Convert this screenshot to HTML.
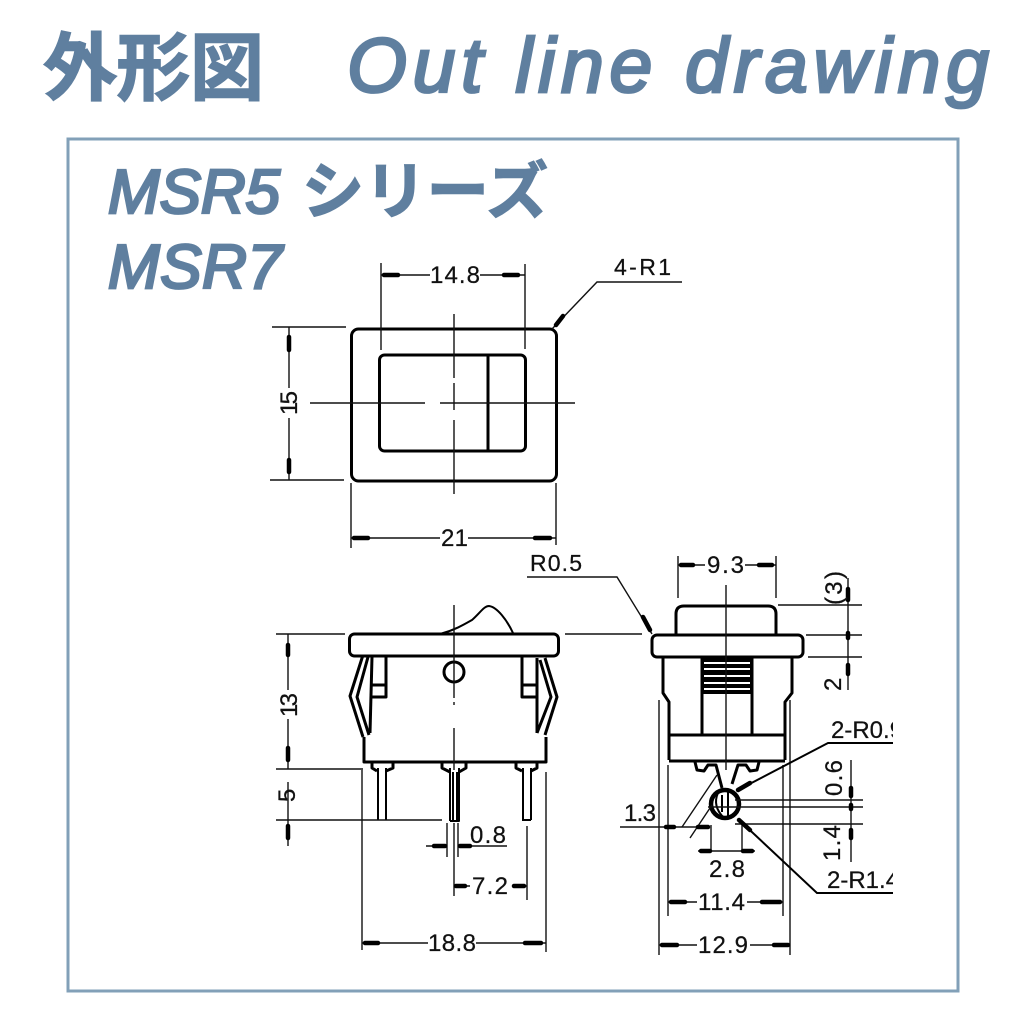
<!DOCTYPE html>
<html><head><meta charset="utf-8"><style>
html,body{margin:0;padding:0;background:#fff}
svg{display:block}
.h{fill:#5f7f9f;font-family:"Liberation Sans","Noto Sans CJK JP",sans-serif;font-style:italic;font-weight:400;stroke:#5f7f9f;stroke-width:2.8}
.j{fill:#5f7f9f;font-family:"Noto Sans CJK JP",sans-serif;font-weight:700;stroke:#5f7f9f;stroke-width:1.5}
.t{fill:#111;font-family:"Liberation Sans",sans-serif;font-size:24px;stroke:#111;stroke-width:.25}
.m{fill:none;stroke:#000;stroke-width:3;stroke-linejoin:round}
.s{fill:none;stroke:#000;stroke-width:2;stroke-linejoin:round}
.d{fill:none;stroke:#111;stroke-width:1.4}
.a{fill:none;stroke:#000;stroke-width:4.5;stroke-linecap:round}
</style></head><body>
<svg width="1024" height="1024" viewBox="0 0 1024 1024" xmlns="http://www.w3.org/2000/svg">
<rect width="1024" height="1024" fill="#fff"/>
<text class="j" x="43" y="94" font-size="74" textLength="221" lengthAdjust="spacing">外形図</text>
<text class="h" x="347" y="92" font-size="77" textLength="642" lengthAdjust="spacing">Out line drawing</text>
<rect x="68" y="139" width="890" height="852" fill="none" stroke="#82a0b8" stroke-width="3"/>
<text class="h" x="108" y="213" font-size="62" textLength="172" lengthAdjust="spacing">MSR5</text>
<text class="j" x="302" y="213" font-size="62" textLength="246" lengthAdjust="spacing">シリーズ</text>
<text class="h" x="108" y="288" font-size="62" textLength="174" lengthAdjust="spacing">MSR7</text>

<!-- TOP VIEW -->
<rect x="351.500" y="329" width="205" height="152" rx="7" class="m"/>
<rect x="379.500" y="355" width="146" height="96" rx="5" class="m"/>
<path d="M488 355V451" class="m"/>
<path d="M454 314V378M454 383V410M454 420V494" class="d"/>
<path d="M310 403H425M440 403H575" class="d"/>
<path d="M381 263V350M525 264V349" class="d"/>
<path d="M381 275H430M480 275H525" class="d"/>
<path d="M384 275H398M504 275H518" class="a"/>
<text class="t" x="430" y="283" textLength="50" lengthAdjust="spacing">14.8</text>
<path d="M272 327H346M270 480H344" class="d"/>
<path d="M289 327V388M289 418V480" class="d"/>
<path d="M289 337V350M289 460V472" class="a" stroke-width="4"/>
<text class="t" transform="translate(297,415) rotate(-90)" textLength="24" lengthAdjust="spacing">15</text>
<path d="M351 483V548M556 483V545" class="d"/>
<path d="M351 538H440M468 538H556" class="d"/>
<path d="M354 538H368M535 538H550" class="a"/>
<text class="t" x="441" y="546" textLength="27" lengthAdjust="spacing">21</text>
<path d="M552 329L597 282H682" class="d"/>
<path d="M556 325L563 316" class="a"/>
<text class="t" x="614" y="275" style="font-size:23px" textLength="57" lengthAdjust="spacing">4-R1</text>

<!-- FRONT VIEW -->
<path d="M440 634C455 630 465 624 472 620C480 613 484 606 489 606C497 607 507 620 513 633" class="s"/>
<rect x="349.500" y="634" width="209" height="22" rx="5" class="m"/>
<path d="M364 737V762H546V737" class="m"/>
<path d="M363 655L350 696L363 737M368 657L357 697L369 735" class="m" stroke-width="2.500"/>
<path d="M372 657L370 733" class="m" stroke-width="3.500"/>
<path d="M545 658L557 697L545 735M540 660L551 697L537 733" class="m" stroke-width="2.500"/>
<path d="M537 658V733" class="m" stroke-width="3.500"/>
<path d="M386 657V697H371M372 685H386M522 657V697H537M522 685H537" class="m"/>
<circle cx="454" cy="672" r="10" class="m"/>
<path d="M454 605V698M454 702V705M454 728V770" class="d"/>
<path d="M378 768V820M386 768V820M523 768V820M531 768V820M450 768V821M459 768V821H450M522 820H531M453 772V820M457 772V820" class="s"/>
<path d="M372 762V768L377 771M393 762V768L386 771M442 762V768L450 772M466 762V768L459 772M516 762V768L522 771M537 762V768L531 771" class="m"/>
<path d="M276 634H345M276 769H363M276 820H442" class="d"/>
<path d="M288 634V690M288 719V769M288 782V846" class="d" stroke-width="1.500"/>
<path d="M288 645V655M288 748V760M288 826V838" class="a" stroke-width="4"/>
<text class="t" transform="translate(297,717) rotate(-90)" textLength="24" lengthAdjust="spacing">13</text>
<text class="t" transform="translate(295,802) rotate(-90)">5</text>
<path d="M362 770V950M546 772V952" class="d"/>
<path d="M362 943H428M476 943H546" class="d"/>
<path d="M365 943H378M525 943H541" class="a"/>
<text class="t" x="428" y="951" textLength="48" lengthAdjust="spacing">18.8</text>
<path d="M447 823V857M458 823V857M454 823V896M527 826V900" class="d"/>
<path d="M426 846H447M458 846H507" class="d"/>
<path d="M434 846H445M460 846H470" class="a" stroke-width="3.500"/>
<text class="t" x="470" y="843" textLength="36" lengthAdjust="spacing">0.8</text>
<path d="M454 886H470M512 886H527" class="d"/>
<path d="M456 886H465M514 886H524" class="a" stroke-width="3.500"/>
<text class="t" x="472" y="894" textLength="36" lengthAdjust="spacing">7.2</text>

<!-- SIDE VIEW -->
<path d="M565 634H642" class="d"/>
<path d="M676 634V614Q676 606 684 606H768Q776 606 776 614V634" class="m"/>
<rect x="652" y="635" width="151" height="22" rx="5" class="m"/>
<path d="M663 657V693L669 702V760M792 657V693L785 702V760" class="m"/>
<path d="M702 657V735M752 657V735M669 735H785M669 761H785" class="m"/>
<rect x="702" y="658" width="50" height="36" fill="#000"/>
<path d="M704 663H750M704 669H750M704 676H750M704 683H750M704 689H750" stroke="#fff" stroke-width="2"/>
<path d="M659 700V955M790 700V955" class="d"/>
<path d="M726 585V770" class="d"/>
<path d="M678 556V598M776 556V598" class="d"/>
<path d="M678 565H705M745 565H776" class="d"/>
<path d="M681 565H693M759 565H772" class="a"/>
<text class="t" x="707" y="573" textLength="37" lengthAdjust="spacing">9.3</text>
<path d="M848 578V690" class="d"/>
<path d="M778 605H862M806 635H862M808 657H862" class="d"/>
<path d="M848 589V600M848 633V638M848 665V674" class="a"/>
<text class="t" transform="translate(842,605) rotate(-90)" textLength="34" lengthAdjust="spacing">(3)</text>
<text class="t" transform="translate(841,691) rotate(-90)">2</text>
<path d="M527 577H617L652 634" class="d"/>
<path d="M643 617L650 630" class="a"/>
<text class="t" x="530" y="571" style="font-size:23px" textLength="52" lengthAdjust="spacing">R0.5</text>

<!-- Terminal detail -->
<path d="M695 762L697 770L704 771L708 765H716L722 788M759 762L757 770L750 771L746 765H738L732 784" class="m"/>
<circle cx="725" cy="804" r="14" fill="none" stroke="#000" stroke-width="4.500"/>
<path d="M718 793Q712 806 724 818M728 792V816M722 795V812" class="s"/>
<path d="M717 775L682 827M712 805L690 838" class="d"/>
<path d="M735 800H863M708 807H863M735 824H863" class="d" stroke-width="1.600"/>
<path d="M668 765V916M783 765V916" class="d"/>
<path d="M851 760V862" class="d"/>
<path d="M851 788V796M851 805V809M851 830V838" class="a"/>
<text class="t" transform="translate(842,796) rotate(-90)" textLength="36" lengthAdjust="spacing">0.6</text>
<text class="t" transform="translate(840,861) rotate(-90)" textLength="36" lengthAdjust="spacing">1.4</text>
<path d="M620 827H710" class="d" stroke-width="1.800"/>
<path d="M666 827H674M698 827H708" class="a"/>
<text class="t" x="624" y="821" textLength="32" lengthAdjust="spacing">1.3</text>
<path d="M711 825V852M742 825V852M698 851H755" class="d"/>
<path d="M701 851H710M743 851H752" class="a" stroke-width="3.500"/>
<text class="t" x="709" y="877" textLength="36" lengthAdjust="spacing">2.8</text>
<path d="M668 902H697M747 902H783" class="d"/>
<path d="M671 902H685M762 902H780" class="a"/>
<text class="t" x="698" y="910" textLength="47" lengthAdjust="spacing">11.4</text>
<path d="M659 945H697M750 945H790" class="d"/>
<path d="M662 945H677M774 945H788" class="a"/>
<text class="t" x="698" y="953" textLength="50" lengthAdjust="spacing">12.9</text>
<svg x="0" y="0" width="893" height="1024" viewBox="0 0 893 1024">
<path d="M738 790L828 743H900" class="s" stroke-width="1.500"/>
<path d="M738 819L817 893H900" class="s" stroke-width="1.500"/>
<path d="M738 790L750 783M739 820L750 830" class="a" stroke-width="3.500"/>
<text class="t" x="831" y="738">2-R0.9</text>
<text class="t" x="827" y="888">2-R1.4</text>
</svg>
</svg>
</body></html>
